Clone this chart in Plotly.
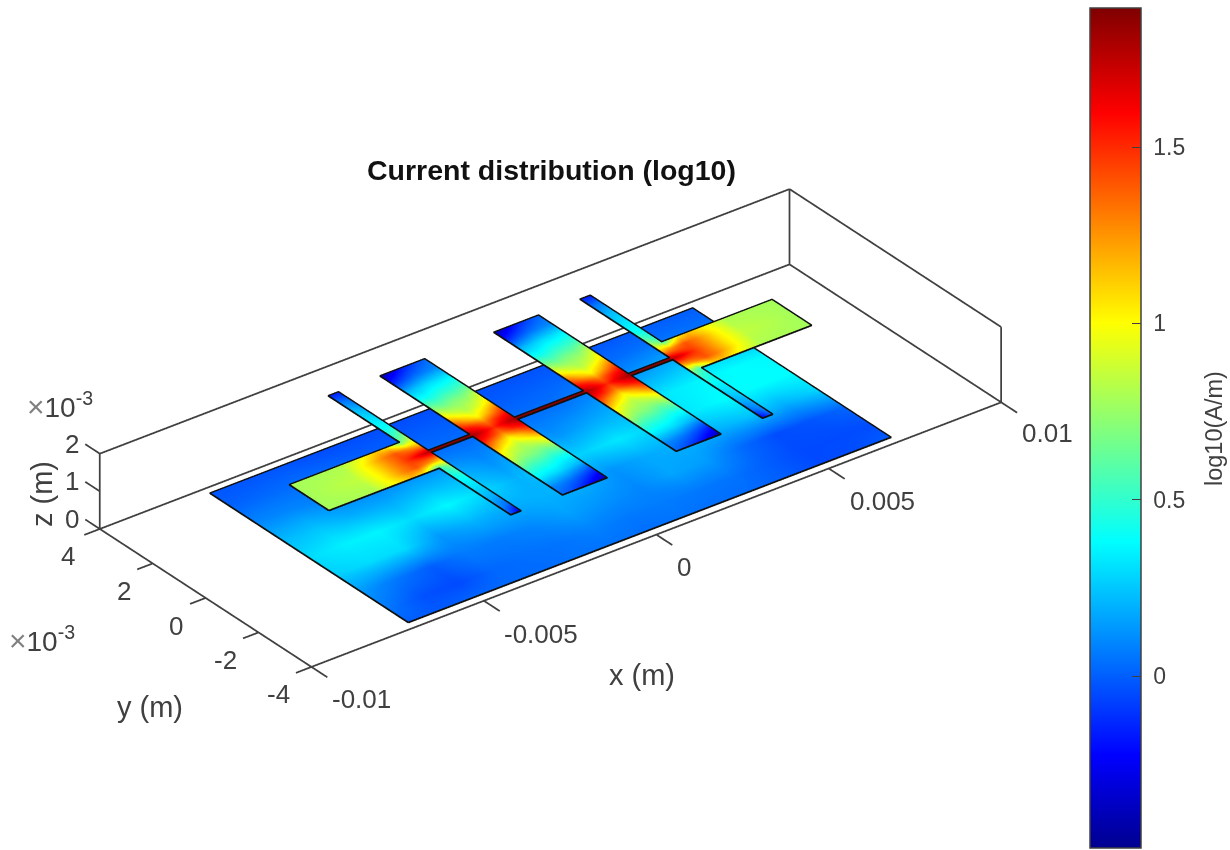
import numpy as np
import plotly.graph_objects as go

MM = 1e-3
TITLE = "Current distribution (log10)"
COLORBAR_TITLE = "log10(A/m)"
FONT = "Liberation Sans, Arial, sans-serif"
TXT = "#404040"
CMIN, CMAX = -0.487, 1.894
JET = [[0, "rgb(0,0,143)"], [0.11, "rgb(0,0,255)"], [0.365, "rgb(0,255,255)"],
       [0.625, "rgb(255,255,0)"], [0.875, "rgb(255,0,0)"], [1, "rgb(128,0,0)"]]

x_lim = [-10, 10]
y_lim = [-4, 4]
z_lim = [0, 2]
x_ticks = [-10, -5, 0, 5, 10]
x_ticktext = ["-0.01", "-0.005", "0", "0.005", "0.01"]
y_ticks = [-4, -2, 0, 2, 4]
y_ticktext = ["-4", "-2", "0", "2", "4"]
z_ticks = [0, 1, 2]
z_ticktext = ["0", "1", "2"]
cbar_ticks = [0, 0.5, 1, 1.5]
cbar_ticktext = ["\u00a00", "\u00a00.5", "\u00a01", "\u00a01.5"]

metal_z = 1.6
ground_z = 0.0

ground_x = [-7, -6, -5, -4, -3, -2, -1, 0, 1, 2, 3, 4, 5, 6, 7]
ground_y = [-3.75, -3, -2, -1, 0, 1, 2, 3, 3.75]
ground_vals = [
    [.00, -.01, .02, .03, .03, .05, .05, .04, .05, .04, .03, .00, -.05, -.04, .00],
    [.06, -.03, -.05, .02, .04, .05, .08, .06, .07, .06, .05, .00, -.05, -.05, -.04],
    [.14, .06, .00, .07, .07, .10, .16, .13, .10, .17, .15, .03, -.04, -.02, .02],
    [.27, .30, .30, .14, .20, .18, .20, .20, .13, .18, .20, .20, .24, .20, .28],
    [.30, .35, .36, .30, .37, .30, .20, .28, .28, .33, .28, .33, .38, .38, .38],
    [.22, .24, .18, .17, .20, .20, .12, .20, .13, .18, .22, .33, .36, .38, .37],
    [.10, .10, .08, .05, .05, .05, .04, .05, .05, .06, .12, .15, .20, .22, .20],
    [.01, .02, .03, .02, .00, .00, .00, .00, .00, .01, .02, .03, .05, .05, .04],
    [-.02, -.02, -.02, -.04, -.04, -.04, -.04, -.04, -.03, -.03, -.02, -.02, -.01, .00, .00],
]

patch1_x = [-2.3, -1.975, -1.65, -1.325, -1.0]
patch2_x = [1.0, 1.325, 1.65, 1.975, 2.3]
patch_y = [-3.45, -3, -2.5, -2, -1.5, -1, -.6, -.3, 0, .3, .6, 1, 1.5, 2, 2.5, 3, 3.45]
patch_vals = [
    [.03, -.05, -.15, -.28, -.40],
    [.10, .08, .03, -.05, -.15],
    [.35, .32, .30, .25, .20],
    [.55, .50, .48, .42, .42],
    [.85, .72, .70, .65, .72],
    [1.08, .92, .82, .92, 1.08],
    [1.42, 1.20, 1.02, 1.20, 1.42],
    [1.62, 1.50, 1.32, 1.50, 1.62],
    [1.82, 1.68, 1.50, 1.68, 1.82],
    [1.62, 1.50, 1.32, 1.50, 1.62],
    [1.42, 1.20, 1.02, 1.20, 1.42],
    [1.08, .92, .82, .92, 1.08],
    [.72, .65, .70, .72, .85],
    [.42, .42, .48, .50, .55],
    [.20, .25, .30, .32, .35],
    [-.15, -.05, .03, .08, .10],
    [-.40, -.28, -.15, -.05, .03],
]

feed_left_x = [-7, -5.6, -5, -4.5, -4.2, -3.8]
feed_right_x = [3.8, 4.2, 4.5, 5, 5.6, 7]
feed_y = [-.75, -.4, 0, .4, .75]
feed_left_vals = [
    [.78, .80, 1.00, 1.15, 1.00, .50],
    [.78, .82, 1.05, 1.30, 1.40, 1.25],
    [.78, .85, 1.05, 1.30, 1.45, 1.65],
    [.78, .82, 1.05, 1.30, 1.40, 1.25],
    [.78, .80, .95, 1.12, 1.05, .65],
]
feed_right_vals = [
    [.65, 1.05, 1.12, .95, .80, .78],
    [1.25, 1.40, 1.30, 1.05, .82, .78],
    [1.65, 1.45, 1.30, 1.05, .85, .78],
    [1.25, 1.40, 1.30, 1.05, .82, .78],
    [.50, 1.00, 1.15, 1.00, .80, .78],
]

stub1_x = [-3.8, -3.5]
stub2_x = [3.5, 3.8]
stub_y = [-3.45, -3, -2.5, -2, -1.5, -1, -.75, -.4, 0, .4, .75, 1, 1.5, 2, 2.5, 3, 3.45]
stub1_vals = [
    [.00, -.30], [.12, .02], [.22, .18], [.30, .28], [.37, .38], [.45, .55], [.50, .72],
    [1.25, 1.15], [1.65, 1.78], [1.25, 1.15], [.65, .85], [.50, .68], [.40, .40],
    [.33, .30], [.25, .20], [.10, .05], [-.15, -.15],
]
stub2_vals = [
    [-.30, .00], [.02, .12], [.18, .22], [.28, .30], [.38, .37], [.55, .45], [.72, .50],
    [1.15, 1.25], [1.78, 1.65], [1.15, 1.25], [.85, .65], [.68, .50], [.40, .40],
    [.30, .33], [.20, .25], [.05, .10], [-.15, -.15],
]

strip_spans = [[-3.5, -2.3], [-1.0, 1.0], [2.3, 3.5]]
strip_y = [-.06, .06]
strip_value = 1.87

ground_outline_x = [-7, 7, 7, -7, -7]
ground_outline_y = [-3.75, -3.75, 3.75, 3.75, -3.75]
metal_outline_x = [-7, -3.8, -3.8, -3.5, -3.5, -2.3, -2.3, -1, -1, 1, 1, 2.3, 2.3, 3.5, 3.5, 3.8, 3.8, 7,
                   7, 3.8, 3.8, 3.5, 3.5, 2.3, 2.3, 1, 1, -1, -1, -2.3, -2.3, -3.5, -3.5, -3.8, -3.8, -7, -7]
metal_outline_y = [-.75, -.75, -3.45, -3.45, -.06, -.06, -3.45, -3.45, -.06, -.06, -3.45, -3.45, -.06, -.06, -3.45, -3.45, -.75, -.75,
                   .75, .75, 3.45, 3.45, .06, .06, 3.45, 3.45, .06, .06, 3.45, 3.45, .06, .06, 3.45, 3.45, .75, .75, -.75]

# tick styling: mark lengths in axis units and label offsets in pixels
x_tick_len, y_tick_len, z_tick_len = 0.6, 0.45, 0.55
x_label_shift = [(50, 32), (57, 33), (28, 32), (54, 33), (46, 31)]
y_label_shift = [(-33, 27), (-33, 28), (-30, 28), (-29, 28), (-32, 27)]
z_label_shift = [(-28, -10), (-28, -10), (-28, -10)]


def plate(xs, ys, vals, z, showscale=False):
    vals = np.asarray(vals, dtype=float)
    kw = {}
    if showscale:
        kw["colorbar"] = dict(
            thicknessmode="pixels", thickness=51, lenmode="pixels", len=840,
            x=1090 / 1230, xanchor="left", y=1 - 428 / 850, yanchor="middle",
            xpad=0, ypad=0, outlinecolor="#404040", outlinewidth=1.5,
            ticks="inside", ticklen=9, tickwidth=1, tickcolor="#404040",
            tickvals=cbar_ticks, ticktext=cbar_ticktext,
            tickfont=dict(family=FONT, size=23, color=TXT),
        )
    return go.Surface(
        x=np.asarray(xs) * MM, y=np.asarray(ys) * MM, z=np.full(vals.shape, z * MM),
        surfacecolor=vals, cmin=CMIN, cmax=CMAX, colorscale=JET, showscale=showscale,
        lighting=dict(ambient=1, diffuse=0, specular=0, roughness=1, fresnel=0),
        hoverinfo="skip", **kw)


traces = [
    plate(ground_x, ground_y, ground_vals, ground_z, showscale=True),
    plate(patch1_x, patch_y, patch_vals, metal_z),
    plate(patch2_x, patch_y, patch_vals, metal_z),
    plate(feed_left_x, feed_y, feed_left_vals, metal_z),
    plate(feed_right_x, feed_y, feed_right_vals, metal_z),
    plate(stub1_x, stub_y, stub1_vals, metal_z),
    plate(stub2_x, stub_y, stub2_vals, metal_z),
]
for span in strip_spans:
    traces.append(plate(span, strip_y, [[strip_value] * 2] * 2, metal_z))

lift = 0.01
traces.append(go.Scatter3d(
    x=np.array(ground_outline_x) * MM, y=np.array(ground_outline_y) * MM,
    z=[(ground_z + lift) * MM] * len(ground_outline_x), mode="lines",
    line=dict(color="#101010", width=3.5), hoverinfo="skip", showlegend=False))
traces.append(go.Scatter3d(
    x=np.array(metal_outline_x) * MM, y=np.array(metal_outline_y) * MM,
    z=[(metal_z + lift) * MM] * len(metal_outline_x), mode="lines",
    line=dict(color="#101010", width=3.5), hoverinfo="skip", showlegend=False))

# box edges and tick marks, from the axis limits and tick lists
x0, x1 = x_lim
y0, y1 = y_lim
z0, z1 = z_lim
edges = [((x0, y0, z0), (x1, y0, z0)), ((x0, y0, z0), (x0, y1, z0)), ((x0, y1, z0), (x1, y1, z0)),
         ((x1, y0, z0), (x1, y1, z0)), ((x0, y1, z0), (x0, y1, z1)), ((x1, y1, z0), (x1, y1, z1)),
         ((x1, y0, z0), (x1, y0, z1)), ((x0, y1, z1), (x1, y1, z1)), ((x1, y0, z1), (x1, y1, z1))]
edges += [((t, y0, z0), (t, y0 - x_tick_len, z0)) for t in x_ticks]
edges += [((x0, t, z0), (x0 - y_tick_len, t, z0)) for t in y_ticks]
edges += [((x0, y1, t), (x0, y1 + z_tick_len, t)) for t in z_ticks]
bx, by, bz = [], [], []
for a, b in edges:
    bx += [a[0] * MM, b[0] * MM, None]
    by += [a[1] * MM, b[1] * MM, None]
    bz += [a[2] * MM, b[2] * MM, None]
traces.append(go.Scatter3d(x=bx, y=by, z=bz, mode="lines", line=dict(color="#404040", width=3.5),
                           hoverinfo="skip", showlegend=False))

fig = go.Figure(traces)

PAD = 1.0


def axis(lim, pad):
    return dict(range=[(lim[0] - pad) * MM, (lim[1] + pad) * MM], showticklabels=False, ticks="",
                showgrid=False, zeroline=False, showbackground=False, showline=False, showspikes=False,
                title=dict(text=""), autorange=False)


def note(text, px, py, size=29, color=TXT, angle=0, xanchor="center"):
    return dict(text=text, x=px / 1230, y=1 - py / 850, xref="paper", yref="paper", textangle=angle,
                xanchor=xanchor, yanchor="middle", showarrow=False,
                font=dict(family=FONT, size=size, color=color))


def tick_label(text, x, y, z, shift):
    return dict(text=text, x=x * MM, y=y * MM, z=z * MM, showarrow=False, xanchor="center", yanchor="middle",
                xshift=shift[0], yshift=-shift[1], font=dict(family=FONT, size=26, color=TXT))


scene_notes = (
    [tick_label(s, t, y0, z0, d) for s, t, d in zip(x_ticktext, x_ticks, x_label_shift)]
    + [tick_label(s, x0, t, z0, d) for s, t, d in zip(y_ticktext, y_ticks, y_label_shift)]
    + [tick_label(s, x0, y1, t, d) for s, t, d in zip(z_ticktext, z_ticks, z_label_shift)]
)

eye = np.array([-0.527, -0.687, 0.5])
box_scale = 2.06
x_span = x1 - x0
y_span = y1 - y0
EXP_LABEL = '<span style="color:#808080;font-size:30px">×</span>10<sup>-3</sup>'
fig.update_layout(
    width=1230, height=850, margin=dict(l=0, r=0, t=0, b=0), paper_bgcolor="white",
    showlegend=False,
    scene=dict(
        domain=dict(x=[0, 0.895], y=[0, 0.993]),
        aspectmode="manual",
        aspectratio=dict(x=box_scale * (x_span + 2 * PAD) / x_span,
                         y=0.4 * box_scale * (y_span + 2 * PAD) / y_span,
                         z=0.1 * box_scale),
        camera=dict(eye=dict(x=eye[0], y=eye[1], z=eye[2]), up=dict(x=0, y=0, z=1),
                    center=dict(x=0, y=0, z=0), projection=dict(type="orthographic")),
        xaxis=axis(x_lim, PAD),
        yaxis=axis(y_lim, PAD),
        zaxis=axis(z_lim, 0),
        annotations=scene_notes,
    ),
    annotations=[
        note("<b>" + TITLE + "</b>", 551, 170, size=28.5, color="#111111"),
        note("x (m)", 642, 675),
        note("y (m)", 150, 707),
        note("z (m)", 42, 494, angle=-90),
        note(EXP_LABEL, 25, 405, size=28, xanchor="left"),
        note(EXP_LABEL, 7, 639, size=28, xanchor="left"),
        note(COLORBAR_TITLE, 1214, 429, size=23.5, angle=-90),
    ],
)
fig.write_html("out.html", config=dict(displayModeBar=False),
               post_script="document.body.style.margin='0';document.body.style.overflow='hidden';")
